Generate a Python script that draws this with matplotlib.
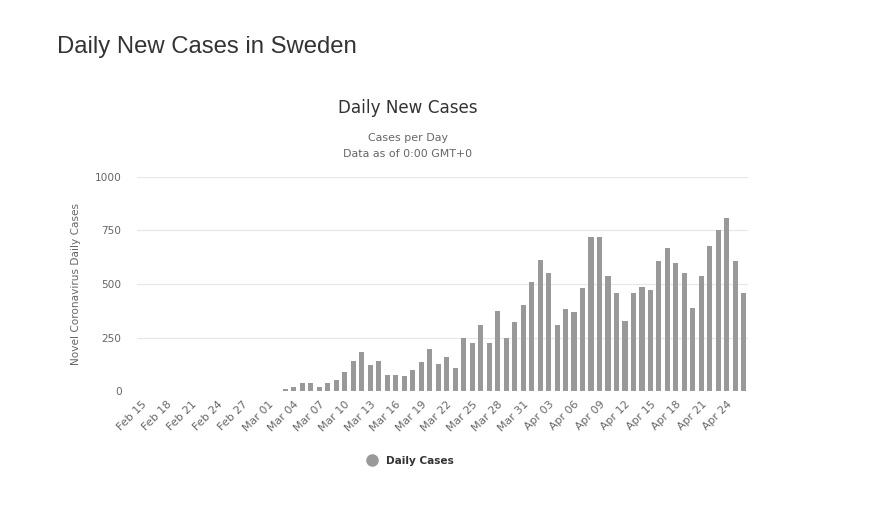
import matplotlib.pyplot as plt
import numpy as np
import pandas as pd
from matplotlib.lines import Line2D

# daily new cases, Feb 15 .. Apr 26 2020
dates = pd.date_range("2020-02-15", "2020-04-26", freq="D")
cases = [
    0, 0, 0, 0, 0, 0, 0, 0, 0, 0, 0, 0, 0, 0, 0,   # Feb 15 - Feb 29
    0, 0, 10, 19, 37, 37, 19, 37, 51, 88,          # Mar 01 - Mar 10
    140, 181, 121, 140, 74, 74, 70, 98, 135, 195,  # Mar 11 - Mar 20
    126, 158, 107, 246, 223, 307, 223, 372, 246, 321, 400,  # Mar 21 - Mar 31
    507, 614, 553, 307, 381, 367, 479, 720, 720, 535,      # Apr 01 - Apr 10
    460, 326, 460, 488, 474, 605, 670, 600, 553, 386,      # Apr 11 - Apr 20
    539, 678, 750, 810, 608, 460,                          # Apr 21 - Apr 26
]
y_ticks = [0, 250, 500, 750, 1000]

tick_idx = np.arange(0, len(dates), 3)
tick_labels = [dates[i].strftime("%b %d") for i in tick_idx]

fig = plt.figure(figsize=(8.77, 5.14), dpi=100)
ax = fig.add_axes([0.156, 0.239, 0.697, 0.417])
ax.set_axisbelow(True)

x = np.arange(len(dates))
ax.bar(x, cases, width=0.6, color="#999999", zorder=3)

ax.set_xlim(-0.5, len(dates) - 0.5)
ax.set_ylim(0, 1000)
ax.set_yticks(y_ticks)
ax.set_yticklabels([str(v) for v in y_ticks])
ax.grid(axis="y", color="#e6e6e6", linewidth=0.8)
ax.set_xticks(tick_idx)
ax.set_xticklabels(tick_labels, rotation=45, ha="right", rotation_mode="anchor")
ax.tick_params(axis="x", length=0, pad=6, labelsize=7.9, labelcolor="#666666")
ax.tick_params(axis="y", length=0, pad=11, labelsize=7.6, labelcolor="#666666")
for s in ax.spines.values():
    s.set_visible(False)

ax.set_ylabel("Novel Coronavirus Daily Cases", fontsize=7.6, color="#666666", labelpad=10)

fig.text(0.065, 0.908, "Daily New Cases in Sweden", fontsize=17.2,
         family="Liberation Sans", color="#333333", va="center", ha="left")
fig.text(0.465, 0.79, "Daily New Cases", fontsize=12.1, color="#333333",
         ha="center", va="center")
fig.text(0.465, 0.731, "Cases per Day", fontsize=7.9, color="#666666",
         ha="center", va="center")
fig.text(0.465, 0.701, "Data as of 0:00 GMT+0", fontsize=7.9, color="#666666",
         ha="center", va="center")

handle = Line2D([], [], marker="o", linestyle="none", markersize=8,
                markerfacecolor="#999999", markeredgecolor="#999999")
fig.legend([handle], ["Daily Cases"], loc="center", bbox_to_anchor=(0.465, 0.104),
           frameon=False, handletextpad=0.3,
           prop={"size": 7.6, "weight": "bold"}, labelcolor="#333333")

fig.savefig("out.png", dpi=100, facecolor="white")
